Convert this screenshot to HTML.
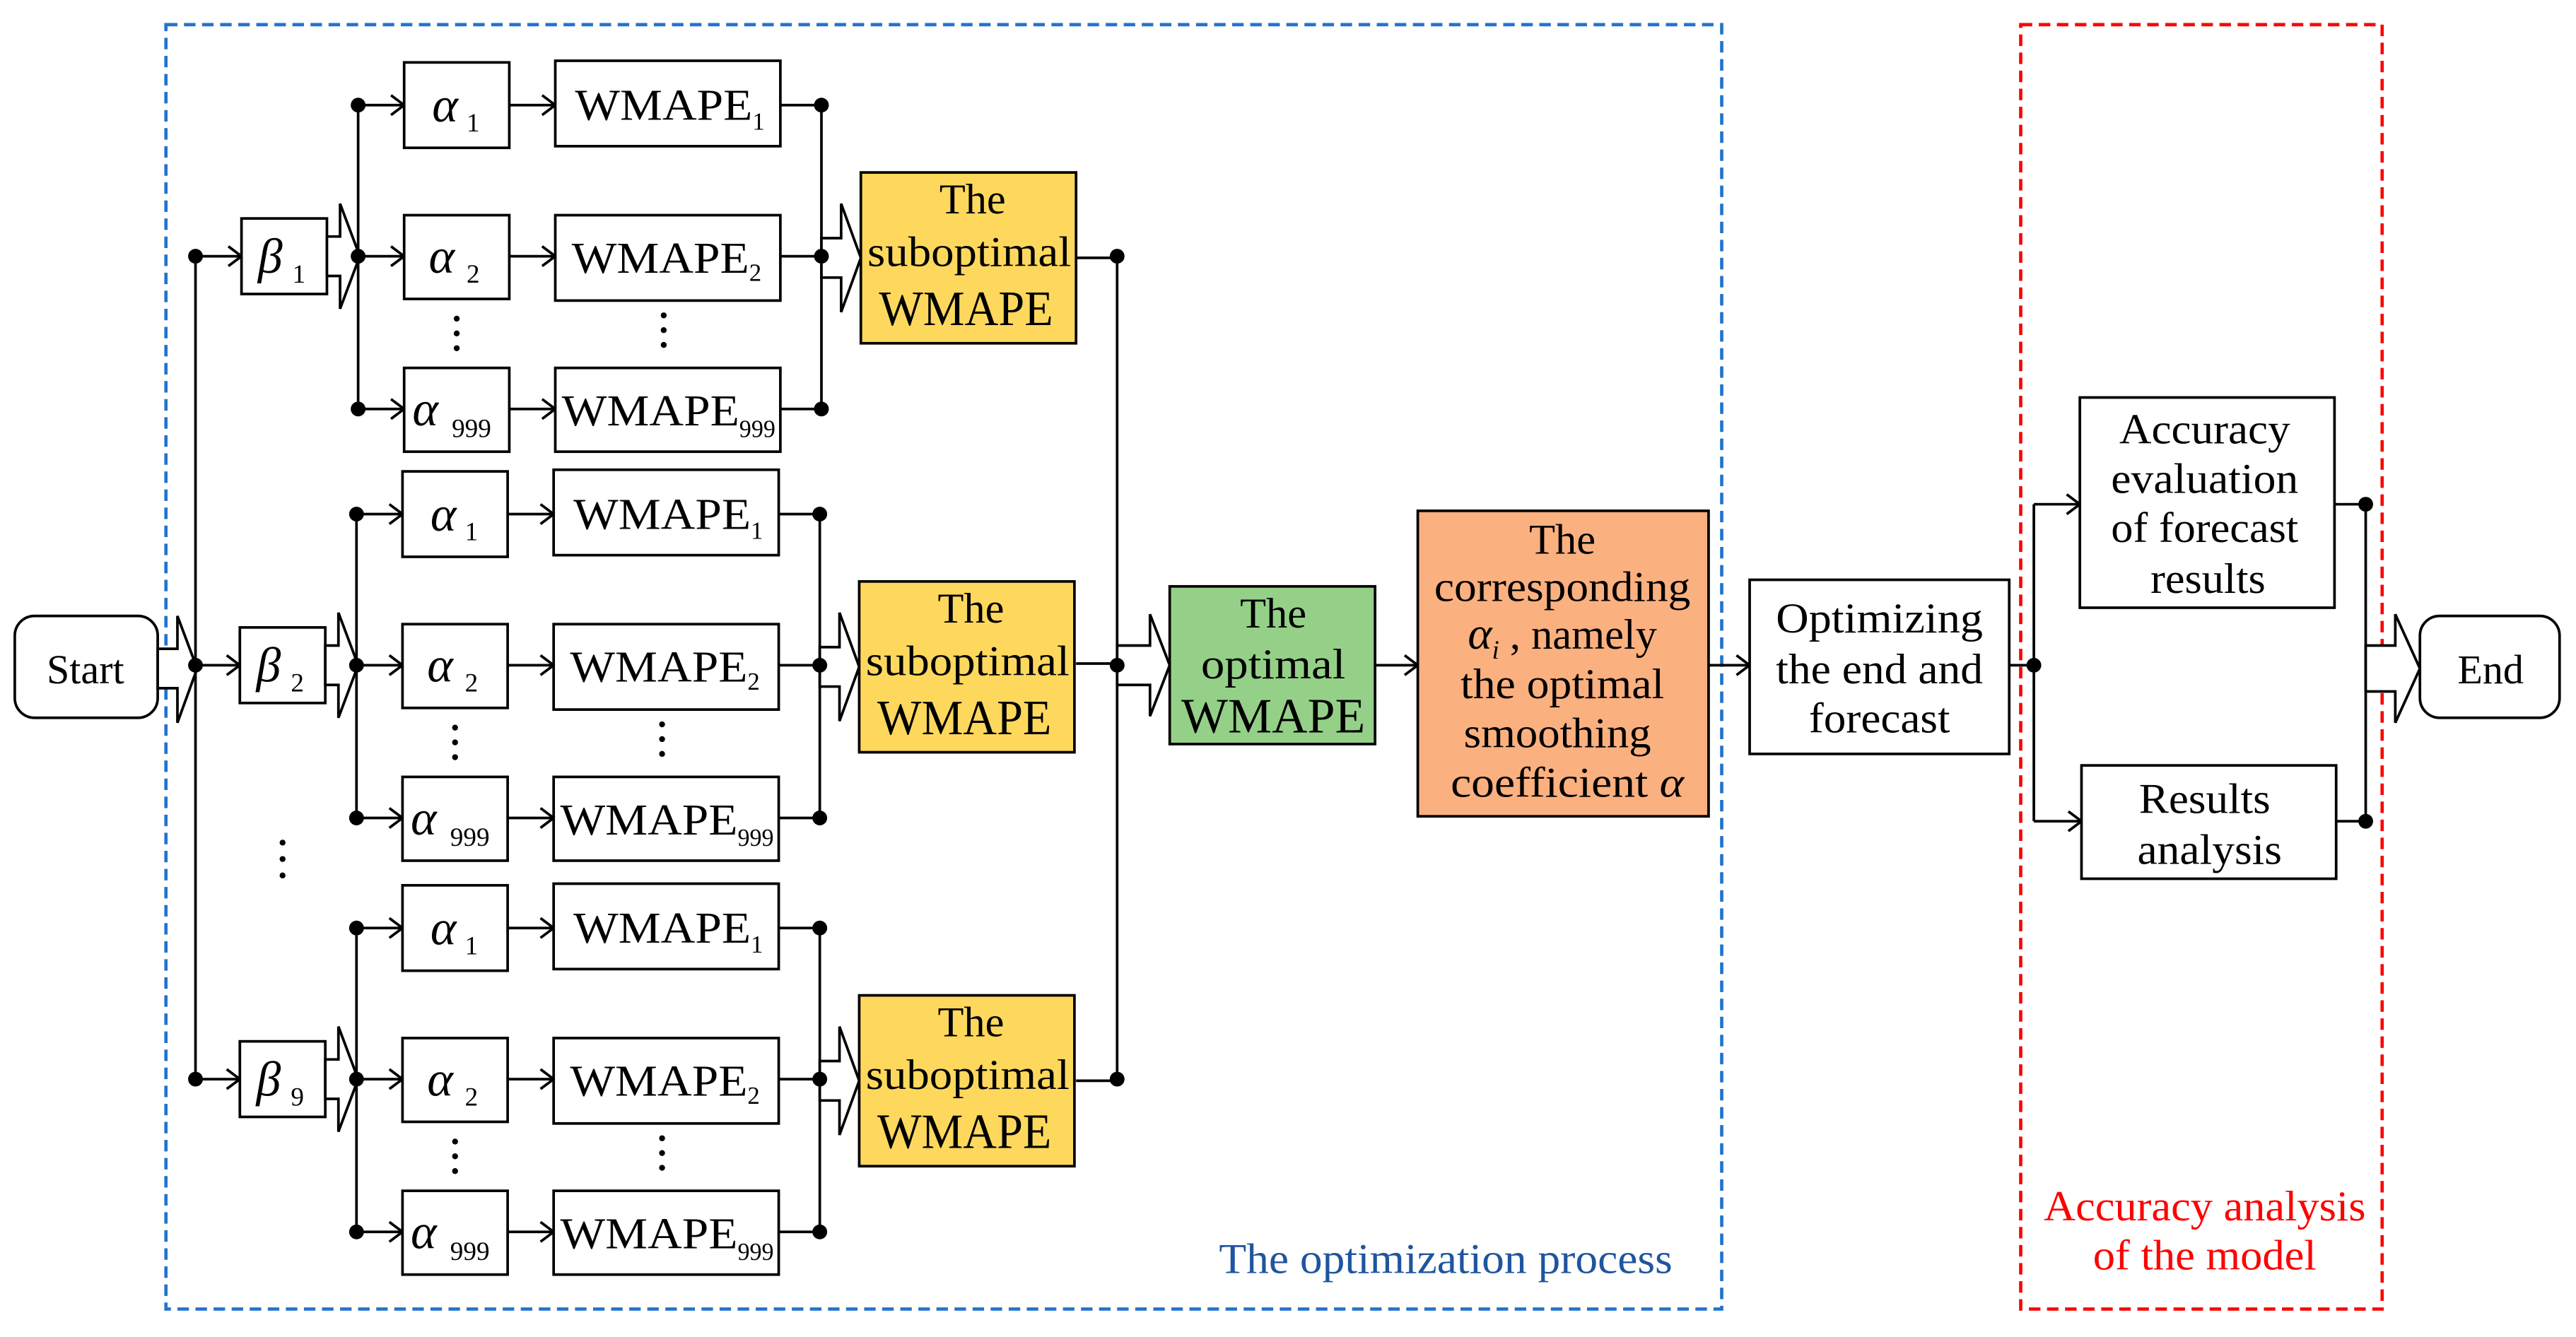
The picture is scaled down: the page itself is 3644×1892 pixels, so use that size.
<!DOCTYPE html>
<html><head><meta charset="utf-8"><style>
html,body{margin:0;padding:0;background:#fff}
svg{display:block}
text{font-family:"Liberation Serif",serif;fill:#000}
</style></head><body>
<svg width="3644" height="1892" viewBox="0 0 1568 814" preserveAspectRatio="none" xmlns="http://www.w3.org/2000/svg">
<rect x="0" y="0" width="1568" height="814" fill="#fff"/>
<rect x="101" y="15" width="947" height="782" fill="none" stroke="#2273CC" stroke-width="2" stroke-dasharray="7,4"/>
<rect x="1230" y="15" width="220" height="782" fill="none" stroke="#FF0000" stroke-width="2" stroke-dasharray="7,4"/>
<text x="880" y="775" font-size="26" text-anchor="middle" style="fill:#1F55A0" textLength="276" lengthAdjust="spacingAndGlyphs">The optimization process</text>
<text x="1342" y="743" font-size="26" text-anchor="middle" style="fill:#FF0000" textLength="196" lengthAdjust="spacingAndGlyphs">Accuracy analysis</text>
<text x="1342" y="773" font-size="26" text-anchor="middle" style="fill:#FF0000" textLength="136" lengthAdjust="spacingAndGlyphs">of the model</text>

<g stroke="#000" stroke-width="1.6" fill="none">
<rect x="9" y="375" width="87" height="62" rx="12" fill="#fff"/>
<polygon points="96,395 108,395 108,375 120,407 108,440 108,419 96,419" fill="#fff"/>
<line x1="119" y1="156" x2="119" y2="657"/>
<path d="M119,156H146M139,150L147,156L139,162"/>
<path d="M119,405H145M138,399L146,405L138,411"/>
<path d="M119,657H145M138,651L146,657L138,663"/>
<line x1="680" y1="156" x2="680" y2="657"/>
<path d="M655,157H680M655,404H680M655,658H680"/>
<polygon points="680,393 700,393 700,374 712,405 700,436 700,417 680,417" fill="#fff"/>
<path d="M837,405H862M855,399L863,405L855,411"/>
<path d="M1040,405H1064M1057,399L1065,405L1057,411"/>
<path d="M1223,405H1238M1238,307V500M1238,307H1265M1258,301L1266,307L1258,313M1238,500H1266M1259,494L1267,500L1259,506"/>
<path d="M1421,307H1440M1422,500H1440M1440,307V500"/>
<polygon points="1440,393 1458,393 1458,374 1473,407 1458,440 1458,421 1440,421" fill="#fff"/>
<rect x="1473" y="375" width="85" height="62" rx="12" fill="#fff"/>
<rect x="712" y="357" width="125" height="96" fill="#95D088"/>
<rect x="863" y="311" width="177" height="186" fill="#FBB07F"/>
<rect x="1065" y="353" width="158" height="106" fill="#fff"/>
<rect x="1266" y="242" width="155" height="128" fill="#fff"/>
<rect x="1267" y="466" width="155" height="69" fill="#fff"/>
</g>
<g fill="#000">
<circle cx="119" cy="156" r="4.5"/><circle cx="119" cy="405" r="4.5"/><circle cx="119" cy="657" r="4.5"/>
<circle cx="680" cy="156" r="4.5"/><circle cx="680" cy="405" r="4.5"/><circle cx="680" cy="657" r="4.5"/>
<circle cx="1238" cy="405" r="4.5"/><circle cx="1440" cy="307" r="4.5"/><circle cx="1440" cy="500" r="4.5"/>
<circle cx="172" cy="513" r="1.8"/><circle cx="172" cy="523" r="1.8"/><circle cx="172" cy="533" r="1.8"/>
</g>
<text x="52" y="416" font-size="25" text-anchor="middle">Start</text>
<text x="1516" y="416" font-size="25" text-anchor="middle">End</text>
<g font-size="26" text-anchor="middle">
<text x="775" y="382">The</text>
<text x="775" y="413" textLength="88" lengthAdjust="spacingAndGlyphs">optimal</text>
<text x="775" y="446" font-size="30" textLength="112" lengthAdjust="spacingAndGlyphs">WMAPE</text>
<text x="951" y="337">The</text>
<text x="951" y="366" textLength="156" lengthAdjust="spacingAndGlyphs">corresponding</text>
<text x="951" y="395"><tspan font-style="italic" font-size="28">α</tspan><tspan font-style="italic" font-size="16" dy="6">i</tspan><tspan dy="-6"> , namely</tspan></text>
<text x="951" y="425" textLength="124" lengthAdjust="spacingAndGlyphs">the optimal</text>
<text x="948" y="455" textLength="114" lengthAdjust="spacingAndGlyphs">smoothing</text>
<text x="954" y="485" textLength="142" lengthAdjust="spacingAndGlyphs">coefficient <tspan font-style="italic">α</tspan></text>
<text x="1144" y="385" textLength="126" lengthAdjust="spacingAndGlyphs">Optimizing</text>
<text x="1144" y="416" textLength="126" lengthAdjust="spacingAndGlyphs">the end and</text>
<text x="1144" y="446" textLength="86" lengthAdjust="spacingAndGlyphs">forecast</text>
<text x="1342" y="270" textLength="104" lengthAdjust="spacingAndGlyphs">Accuracy</text>
<text x="1342" y="300" textLength="114" lengthAdjust="spacingAndGlyphs">evaluation</text>
<text x="1342" y="330" textLength="114" lengthAdjust="spacingAndGlyphs">of forecast</text>
<text x="1344" y="361" textLength="70" lengthAdjust="spacingAndGlyphs">results</text>
<text x="1342" y="495" textLength="80" lengthAdjust="spacingAndGlyphs">Results</text>
<text x="1345" y="526" textLength="88" lengthAdjust="spacingAndGlyphs">analysis</text>
</g>

<g id="g1">
<g stroke="#000" stroke-width="1.6" fill="none">
<rect x="147" y="133" width="52" height="46" fill="#fff"/>
<polygon points="199,144 207,144 207,124 219,156 207,188 207,168 199,168" fill="#fff"/>
<line x1="218" y1="64" x2="218" y2="249"/>
<path d="M218,64H245M238,58L246,64L238,70"/>
<path d="M218,156H245M238,150L246,156L238,162"/>
<path d="M218,249H245M238,243L246,249L238,255"/>
<rect x="246" y="38" width="64" height="52" fill="#fff"/>
<rect x="246" y="131" width="64" height="51" fill="#fff"/>
<rect x="246" y="224" width="64" height="51" fill="#fff"/>
<path d="M310,64H337M330,58L338,64L330,70"/>
<path d="M310,156H337M330,150L338,156L330,162"/>
<path d="M310,249H337M330,243L338,249L330,255"/>
<rect x="338" y="37" width="137" height="52" fill="#fff"/>
<rect x="338" y="131" width="137" height="52" fill="#fff"/>
<rect x="338" y="224" width="137" height="51" fill="#fff"/>
<path d="M475,64H500M475,156H500M475,249H500M500,64V249"/>
<polygon points="500,145 512,145 512,124 524,157 512,190 512,169 500,169" fill="#fff"/>
<rect x="524" y="105" width="131" height="104" fill="#FDD85D"/>
</g>
<g fill="#000">
<circle cx="218" cy="64" r="4.5"/><circle cx="218" cy="156" r="4.5"/><circle cx="218" cy="249" r="4.5"/>
<circle cx="500" cy="64" r="4.5"/><circle cx="500" cy="156" r="4.5"/><circle cx="500" cy="249" r="4.5"/>
<circle cx="278" cy="194" r="1.8"/><circle cx="278" cy="203" r="1.8"/><circle cx="278" cy="212" r="1.8"/>
<circle cx="404" cy="192" r="1.8"/><circle cx="404" cy="201" r="1.8"/><circle cx="404" cy="210" r="1.8"/>
</g>
<text x="263" y="74" font-size="30" font-style="italic">α</text><text x="284" y="80" font-size="16">1</text>
<text x="261" y="166" font-size="30" font-style="italic">α</text><text x="284" y="172" font-size="16">2</text>
<text x="251" y="259" font-size="30" font-style="italic">α</text><text x="275" y="266" font-size="16">999</text>
<text x="350" y="73" font-size="27" textLength="108" lengthAdjust="spacingAndGlyphs">WMAPE</text><text x="458" y="79" font-size="15">1</text>
<text x="348" y="166" font-size="27" textLength="108" lengthAdjust="spacingAndGlyphs">WMAPE</text><text x="456" y="171" font-size="15">2</text>
<text x="342" y="259" font-size="27" textLength="108" lengthAdjust="spacingAndGlyphs">WMAPE</text><text x="450" y="266" font-size="15" textLength="22" lengthAdjust="spacingAndGlyphs">999</text>
<g font-size="26" text-anchor="middle">
<text x="592" y="130">The</text>
<text x="590" y="162" textLength="124" lengthAdjust="spacingAndGlyphs">suboptimal</text>
<text x="588" y="198" font-size="30" textLength="106" lengthAdjust="spacingAndGlyphs">WMAPE</text>
</g>
</g>
<use href="#g1" transform="translate(-1,249)"/>
<use href="#g1" transform="translate(-1,501)"/>
<text x="157" y="166" font-size="30" font-style="italic">β</text><text x="178" y="172" font-size="16">1</text>
<text x="156" y="415" font-size="30" font-style="italic">β</text><text x="177" y="421" font-size="16">2</text>
<text x="156" y="667" font-size="30" font-style="italic">β</text><text x="177" y="673" font-size="16">9</text>
</svg>
</body></html>
